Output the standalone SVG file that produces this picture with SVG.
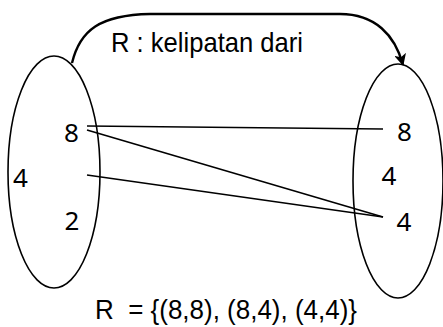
<svg xmlns="http://www.w3.org/2000/svg" width="443" height="327" viewBox="0 0 443 327">
<style>
.set{fill:none;stroke:#000;stroke-width:1.6}
.num{font-family:"Noto Sans","Open Sans",sans-serif;font-size:26px;fill:#000;text-anchor:middle}
.lbl{font-family:"Liberation Sans",Arial,sans-serif;font-size:28px;fill:#000}
.ln{stroke:#000;stroke-width:1.6;fill:none}
</style>
<defs>
<marker id="ah" viewBox="0 0 12 12" refX="11" refY="6" markerWidth="12" markerHeight="12" markerUnits="userSpaceOnUse" orient="auto">
<path d="M0,0 L12,6 L0,12 L3,6 Z" fill="#000"/>
</marker>
</defs>
<rect width="443" height="327" fill="#fff"/>
<g id="domain">
<ellipse class="set" cx="54" cy="172" rx="46" ry="116"/>
<text class="num" x="71.5" y="142">8</text>
<text class="num" x="20.5" y="187">4</text>
<text class="num" x="72" y="230">2</text>
</g>
<g id="codomain">
<ellipse class="set" cx="398" cy="181" rx="45" ry="117"/>
<text class="num" x="404.5" y="141">8</text>
<text class="num" x="389" y="185">4</text>
<text class="num" x="404" y="231">4</text>
</g>
<g id="connectors">
<path d="M72,63 C80,30 100,15 150,14 L340,14 C375,14 395,35 403,65" fill="none" stroke="#000" stroke-width="2.4" marker-end="url(#ah)"/>
<line class="ln" x1="87" y1="126" x2="383" y2="129"/>
<line class="ln" x1="87" y1="130" x2="383" y2="217"/>
<line class="ln" x1="87" y1="175" x2="383" y2="217"/>
</g>
<text class="lbl" x="111" y="52" textLength="192" lengthAdjust="spacingAndGlyphs">R : kelipatan dari</text>
<text class="lbl" x="95" y="319" textLength="262" lengthAdjust="spacingAndGlyphs" xml:space="preserve">R  = {(8,8), (8,4), (4,4)}</text>
</svg>
